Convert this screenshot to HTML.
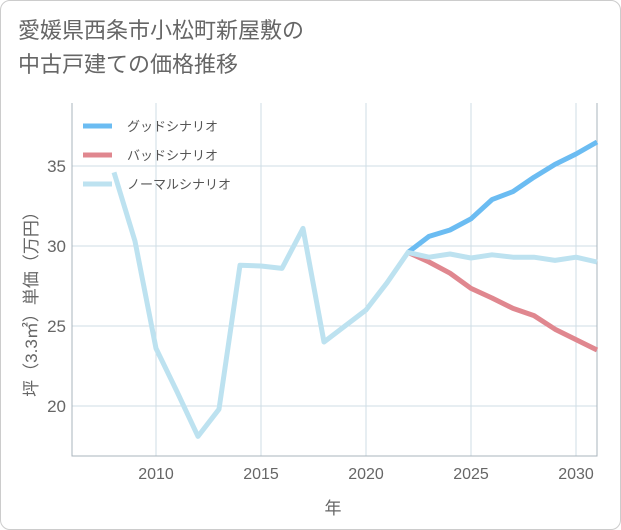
<!DOCTYPE html>
<html><head><meta charset="utf-8"><style>
body{margin:0;background:#fff;font-family:"Liberation Sans","Noto Sans CJK JP",sans-serif;}
.card{position:absolute;left:0;top:0;width:619px;height:528px;border:1px solid #ccc;border-radius:10px;}
.title{position:absolute;left:18px;top:14px;font-size:22px;line-height:34px;color:#666;}
</style></head><body>
<div class="card"></div>
<div class="title">愛媛県西条市小松町新屋敷の<br>中古戸建ての価格推移</div>
<svg id="c" width="621" height="530" style="position:absolute;left:0;top:0"></svg>
<script>
const years=[2008,2009,2010,2011,2012,2013,2014,2015,2016,2017,2018,2019,2020,2021,2022,2023,2024,2025,2026,2027,2028,2029,2030,2031];
const normal=[34.6,30.3,23.6,20.9,18.1,19.8,28.8,28.75,28.6,31.1,24.0,25.0,26.0,27.7,29.6,29.3,29.5,29.25,29.45,29.3,29.3,29.1,29.3,29.0];
const goodYears=[2022,2023,2024,2025,2026,2027,2028,2029,2030,2031];
const good=[29.6,30.6,31.0,31.7,32.9,33.4,34.3,35.1,35.75,36.5];
const bad=[29.6,29.0,28.3,27.35,26.75,26.1,25.65,24.8,24.15,23.5];
const xTicks=[2010,2015,2020,2025,2030];
const yTicks=[20,25,30,35];
const L=72,R=597,T=103,B=456;
const X=y=>L+(y-2006)*21;
const Y=v=>246-(v-30)*16;
const s=document.getElementById('c');const NS='http://www.w3.org/2000/svg';
function el(t,a,p){const e=document.createElementNS(NS,t);for(const k in a)e.setAttribute(k,a[k]);(p||s).appendChild(e);return e;}
xTicks.forEach(t=>{const g=el('line',{x1:X(t),x2:X(t),y1:T,y2:B,stroke:'#cfdde6','stroke-width':1});

const tx=el('text',{x:X(t),y:479,'text-anchor':'middle','font-size':16,fill:'#666'});tx.textContent=t;
});
yTicks.forEach(t=>{const g=el('line',{x1:L,x2:R,y1:Y(t),y2:Y(t),stroke:'#cfdde6','stroke-width':1});

const tx=el('text',{x:66,y:Y(t)+6,'text-anchor':'end','font-size':17,fill:'#666'});tx.textContent=t;
});
const ax=el('path',{d:`M${L} ${T}V${B}H${R}V${T}`,fill:'none',stroke:'#aab4bc','stroke-width':1});

function line(xs,vs,c,n){const p=el('polyline',{points:xs.map((y,i)=>X(y)+','+Y(vs[i])).join(' '),fill:'none',stroke:c,'stroke-width':5,'stroke-linejoin':'round'});
}
line(goodYears,good,'#6bbcf2','good-scenario-line');
line(goodYears,bad,'#e0878f','bad-scenario-line');
line(years,normal,'#bde2f0','normal-scenario-line');
[['グッドシナリオ','#6bbcf2'],['バッドシナリオ','#e0878f'],['ノーマルシナリオ','#bde2f0']].forEach((d,i)=>{
const y=126+i*29;const l=el('line',{x1:83,x2:112,y1:y,y2:y,stroke:d[1],'stroke-width':5});

const t=el('text',{x:127,y:y+5,'font-size':13,fill:'#555'});t.textContent=d[0];
});
const yt=el('text',{x:0,y:0,'font-size':17,fill:'#666','text-anchor':'middle',transform:'translate(37,300) rotate(-90)'});
yt.textContent='坪（3.3㎡）単価（万円）';

const xt=el('text',{x:333,y:514,'font-size':17,fill:'#666','text-anchor':'middle'});xt.textContent='年';

</script>
</body></html>
